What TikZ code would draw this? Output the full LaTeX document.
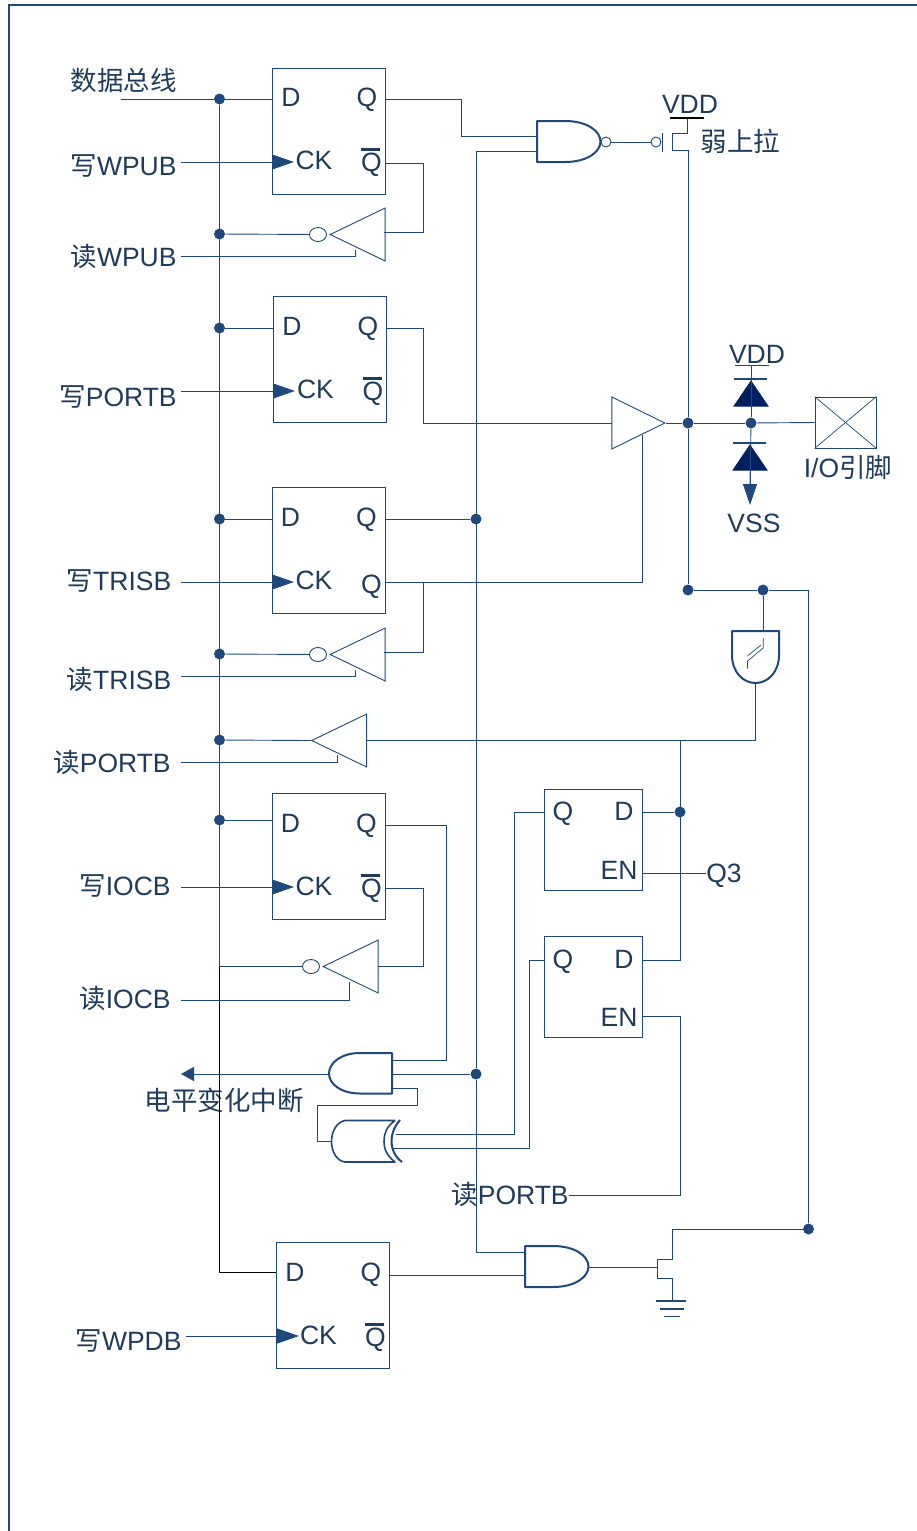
\documentclass[tikz,border=0pt]{standalone}
\usepackage{fontspec}
\setmainfont{Liberation Sans}
\newfontfamily\cjk{Noto Sans CJK SC}
\usetikzlibrary{positioning,shapes.geometric,arrows.meta}
\definecolor{wire}{HTML}{1F497D}
\definecolor{ink}{HTML}{1F3B5C}
\definecolor{navy}{HTML}{002060}
\newcommand{\qbar}{\rlap{\raisebox{20.5pt}{\rule{19pt}{2.2pt}}}Q}

\begin{document}
\begin{tikzpicture}[x=1pt, y=-1pt, wire, line width=0.9pt, node distance=228pt,
        ffbox/.style = {draw, rectangle, minimum width=113pt, minimum height=126pt, inner sep=0pt},
        latbox/.style = {draw, rectangle, minimum width=98pt, minimum height=101pt, inner sep=0pt},
        lbl/.style = {text=ink, inner sep=0pt, text height=17pt, text depth=0pt, font=\fontsize{26.5}{26.5}\selectfont},
        dot/.style = {fill, circle, inner sep=0pt, minimum size=11pt},
        bubble/.style = {draw, ellipse, inner sep=0pt, minimum width=17pt, minimum height=14pt},
        tri/.style = {draw, isosceles triangle, isosceles triangle stretches, inner sep=0pt, minimum width=53pt, minimum height=55pt, shape border rotate=180, anchor=apex},
        diode/.style = {fill=navy, draw=navy, isosceles triangle, isosceles triangle stretches, inner sep=0pt, minimum width=34pt, minimum height=25pt, shape border rotate=90, anchor=apex},
        gate/.style = {line width=2pt, line join=round},
        ckline/.style = {-{Triangle[length=22pt,width=15pt]}}]
        \useasboundingbox (0,0) rectangle (917,1531);

        % frame
        \draw[line width=2pt] (8.5,1531) -- (8.5,4.5) -- (917,4.5);

        % flip-flops
        \node[ffbox] (ff1) at (328.5,131) {};
        \node[ffbox] (ff2) [below of=ff1, xshift=1.5pt] {};
        \node[ffbox] (ff3) at (328.5,550.5) {};
        \node[ffbox] (ff4) at (328.5,856.5) {};
        \node[ffbox] (ff5) at (332.5,1305) {};

        \node[lbl] (d1) at (291,97.5) {D};
        \node[lbl] (q1) [right of=d1, node distance=76pt] {Q};
        \node[lbl] (ck1) at (314,160.5) {CK};
        \node[lbl] (nq1) at (371.5,162.5) {\qbar};

        \node[lbl] (d2) at (292,326.5) {D};
        \node[lbl] (q2) [right of=d2, node distance=76pt] {Q};
        \node[lbl] (ck2) at (315.5,389.5) {CK};
        \node[lbl] (nq2) at (373,391.5) {\qbar};

        \node[lbl] (d3) at (290.5,517.5) {D};
        \node[lbl] (q3) [right of=d3, node distance=76pt] {Q};
        \node[lbl] (ck3) at (314,580.5) {CK};
        \node[lbl] (nq3) at (371.5,584.5) {Q};

        \node[lbl] (d4) at (290.5,823.5) {D};
        \node[lbl] (q4) [right of=d4, node distance=76pt] {Q};
        \node[lbl] (ck4) at (314,886.5) {CK};
        \node[lbl] (nq4) at (371.5,888.5) {\qbar};

        \node[lbl] (d5) at (295,1272.5) {D};
        \node[lbl] (q5) [right of=d5, node distance=76pt] {Q};
        \node[lbl] (ck5) at (318.5,1335.5) {CK};
        \node[lbl] (nq5) at (375.5,1337.5) {\qbar};

        % latches
        \node[latbox] (lat1) at (593,839.5) {};
        \node[latbox] (lat2) at (593,986.5) {};
        \node[lbl] (lq1) at (563,812) {Q};
        \node[lbl] (ld1) [right of=lq1, node distance=61pt] {D};
        \node[lbl] (len1) at (619,871) {EN};
        \node[lbl] (lq2) at (563,959.5) {Q};
        \node[lbl] (ld2) [right of=lq2, node distance=61pt] {D};
        \node[lbl] (len2) at (619,1018) {EN};

        % side labels
        \node[lbl] (bus) at (123.5,82) {{\cjk 数据总线}};
        \node[lbl] (wwpub) at (123.5,167) {{\cjk 写}WPUB};
        \node[lbl] (rwpub) at (123.5,257.5) {{\cjk 读}WPUB};
        \node[lbl] (wportb) at (118,397.5) {{\cjk 写}PORTB};
        \node[lbl] (wtrisb) at (119,581.5) {{\cjk 写}TRISB};
        \node[lbl] (rtrisb) at (119,680.5) {{\cjk 读}TRISB};
        \node[lbl] (rportb) at (112,763.5) {{\cjk 读}PORTB};
        \node[lbl] (wiocb) at (125,886.5) {{\cjk 写}IOCB};
        \node[lbl] (riocb) at (125,999.5) {{\cjk 读}IOCB};
        \node[lbl] (wwpdb) at (128.5,1341.5) {{\cjk 写}WPDB};
        \node[lbl] (rportb2) at (510,1195.5) {{\cjk 读}PORTB};
        \node[lbl] (irq) at (224,1101.5) {{\cjk 电平变化中断}};
        \node[lbl] (q3lbl) at (724,873.5) {Q3};
        \node[lbl] (vdd1) at (690,104.5) {VDD};
        \node[lbl] (weak) at (740.5,143) {{\cjk 弱上拉}};
        \node[lbl] (vdd2) at (757,354.5) {VDD};
        \node[lbl] (vss) at (754,523.5) {VSS};
        \node[lbl] (iopin) at (848,468.5) {I/O{\cjk 引脚}};

        % bus dots
        \node[dot] (n1) at (219.5,99) {};
        \node[dot] (n2) at (219.5,234) {};
        \node[dot] (n3) at (219.5,328) {};
        \node[dot] (n4) at (219.5,519) {};
        \node[dot] (n5) at (219.5,654) {};
        \node[dot] (n6) at (219.5,740) {};
        \node[dot] (n7) at (219.5,820) {};
        \node[dot] (n8) at (476,519) {};
        \node[dot] (n9) at (476,1074) {};
        \node[dot] (n10) at (688,423) {};
        \node[dot] (n11) at (751,423) {};
        \node[dot] (n12) at (688,590) {};
        \node[dot] (n13) at (763,590) {};
        \node[dot] (n14) at (680,812) {};
        \node[dot] (n15) at (808.5,1229) {};

        % three-state buffers
        \node[tri] (buf1) at (329,234.5) {};
        \node[bubble] (bub1) at (318,234.5) {};
        \node[tri] (buf2) at (329,654.5) {};
        \node[bubble] (bub2) at (318,654.5) {};
        \node[tri] (buf3) at (310.5,740.5) {};
        \node[tri] (buf4) at (322,966.5) {};
        \node[bubble] (bub4) at (311,966.5) {};
        \node[tri, shape border rotate=0, minimum width=52pt, minimum height=53pt] (buf5) at (666,423) {};

        % gates
        \draw[gate] (537,121) -- (565,121) .. controls (587,121) and (600.5,131) .. (600.5,141.5) .. controls (600.5,152) and (587,162) .. (565,162) -- (537,162) -- cycle;
        \node[draw, circle, inner sep=0pt, minimum size=10pt] (nandbub) at (606,142) {};
        \node[draw, circle, inner sep=0pt, minimum size=10pt] (pgbub) at (656,142) {};
        \draw[gate] (392,1053) -- (360,1053) .. controls (341,1053) and (329,1063) .. (329,1073.5) .. controls (329,1084) and (341,1093.5) .. (360,1093.5) -- (392,1093.5) -- cycle;
        \draw[gate] (525,1246) -- (553,1246) .. controls (575,1246) and (588.5,1256) .. (588.5,1266.5) .. controls (588.5,1277) and (575,1287) .. (553,1287) -- (525,1287) -- cycle;
        \draw[gate, line width=1.6pt] (395,1120.5) -- (345,1120.5) .. controls (337,1122) and (331.5,1131) .. (331.5,1141.5) .. controls (331.5,1152) and (337,1161) .. (345,1162) -- (395,1162) .. controls (386,1155) and (384,1148) .. (384,1141.5) .. controls (384,1134) and (386,1127) .. (395,1120.5);
        \draw[gate] (400,1120) .. controls (394,1127) and (391.5,1134) .. (391.5,1141) .. controls (391.5,1149) and (395,1157) .. (402,1162);
        \draw[gate] (732,631) -- (779,631) -- (779,655) .. controls (779,672) and (768,683) .. (755.5,683) .. controls (743,683) and (732,672) .. (732,655) -- cycle;
        \draw[line width=0.7pt] (763.3,638) -- (763.3,648) -- (747.5,661) -- (747.5,668.5);
        \draw[line width=0.7pt] (747.5,656) -- (761,645);

        % pad and diodes
        \node[draw, rectangle, minimum width=61pt, minimum height=51pt, inner sep=0pt] (pad) at (845.5,422.5) {};
        \draw[line width=0.7pt] (pad.north west) -- (pad.south east);
        \draw[line width=0.7pt] (pad.south west) -- (pad.north east);
        \node[diode] (dio1) at (751,380) {};
        \node[diode] (dio2) at (750,444) {};
        \draw[line width=2pt] (734,379) -- (767,379);
        \draw[line width=2pt] (733,443) -- (766,443);
        \draw[line width=1.5pt] (735,365.5) -- (769,365.5);

        % named ends
        \coordinate (e1) at (121,99);
        \coordinate (e2) at (181,162);
        \coordinate (e3) at (181,256);
        \coordinate (e4) at (181,391);
        \coordinate (e5) at (181,582);
        \coordinate (e6) at (181,676);
        \coordinate (e7) at (181,762);
        \coordinate (e8) at (181,887);
        \coordinate (e9) at (181,1000);
        \coordinate (e10) at (186,1336);
        \coordinate (e11) at (181,1074);
        \coordinate (e12) at (569,1195);

        % bus
        \draw (e1) -- (n1);
        \draw (n1) -- (272,99);
        \draw (n1) -- (219.5,966.5);
        \draw[draw=black] (219.5,966.5) -- (219.5,1272) -- (276,1272);
        \draw (n2) -- (bub1);
        \draw (n3) -- (273,328);
        \draw (n4) -- (272,519);
        \draw (n5) -- (bub2);
        \draw (n6) -- (buf3.apex);
        \draw (n7) -- (272,820);
        \draw (219.5,966.5) -- (bub4);

        % clocks
        \draw[ckline] (e2) -- (294,162);
        \draw[ckline] (e4) -- (295,391);
        \draw[ckline] (e5) -- (294,582);
        \draw[ckline] (e8) -- (294,887);
        \draw[ckline] (e10) -- (299,1336);

        % enables of the buffers
        \draw (e3) -- (355,256) -- (355,250);
        \draw (e6) -- (355,676) -- (355,670);
        \draw (e7) -- (337,762) -- (337,755);
        \draw (e9) -- (349,1000) -- (349,982);

        % feedback
        \draw (385,163) -- (423,163) -- (423,232) -- (384,232);
        \draw (385,582) -- (642,582) -- (642,435);
        \draw (423,582) -- (423,652) -- (384,652);
        \draw (385,888) -- (423,888) -- (423,966.5) -- (378,966.5);
        \draw (366,740.5) -- (755.5,740.5) -- (755.5,683);

        % pull-up
        \draw (386,99) -- (461,99) -- (461,136) -- (537,136);
        \draw (n8) -- (385,519);
        \draw (537,151) -- (476,151) -- (n9);
        \draw (n9) -- (476,1252) -- (525,1252);
        \draw (nandbub) -- (pgbub);
        \draw (662,133) -- (662,152);
        \draw (687.5,118) -- (687.5,133) -- (672,133) -- (672,150) -- (688,150) -- (n10);
        \draw[line width=1.2pt, draw=black] (670,118) -- (704,118);

        % output
        \draw (386.5,328) -- (423,328) -- (423,423) -- (612,423);
        \draw (buf5.apex) -- (n10);
        \draw (n10) -- (n11);
        \draw (n11) -- (pad.west);
        \draw (n10) -- (n12);
        \draw (n12) -- (n13);
        \draw (n13) -- (808.5,590) -- (n15);
        \draw (n13) -- (763,631);
        \draw (751,365.5) -- (n11);
        \draw (n11) -- (750,484);
        \draw[-{Triangle[length=21pt,width=14pt]}] (750,468) -- (750,505);

        % input latches
        \draw (680,740.5) -- (680,960) -- (642,960);
        \draw (n14) -- (642,812);
        \draw (642,873) -- (706,873);
        \draw (642,1016) -- (680,1016) -- (680,1195) -- (e12);
        \draw (544,812) -- (514,812) -- (514,1134.5) -- (396,1134.5);
        \draw (544,960) -- (529,960) -- (529,1148) -- (393,1148);

        % interrupt
        \draw[-{Triangle[length=13pt,width=14pt]}] (329,1074) -- (e11);
        \draw (392,1060.5) -- (446,1060.5) -- (446,825) -- (385,825);
        \draw (392,1074) -- (n9);
        \draw (392,1088.5) -- (417.5,1088.5) -- (417.5,1105.5) -- (317,1105.5) -- (317,1141.5) -- (332,1141.5);

        % pull-down
        \draw (389,1275) -- (525,1275);
        \draw (588.5,1267) -- (657,1267);
        \draw (657,1259) -- (657,1278);
        \draw (n15) -- (672,1229) -- (672,1259) -- (657,1259);
        \draw (657,1278) -- (672,1278) -- (672,1301);
        \draw[line width=1.5pt] (656,1301) -- (686,1301);
        \draw[line width=1.5pt] (660,1309) -- (684,1309);
        \draw[line width=1.5pt] (664,1316.5) -- (680,1316.5);
    \end{tikzpicture}
\end{document}
